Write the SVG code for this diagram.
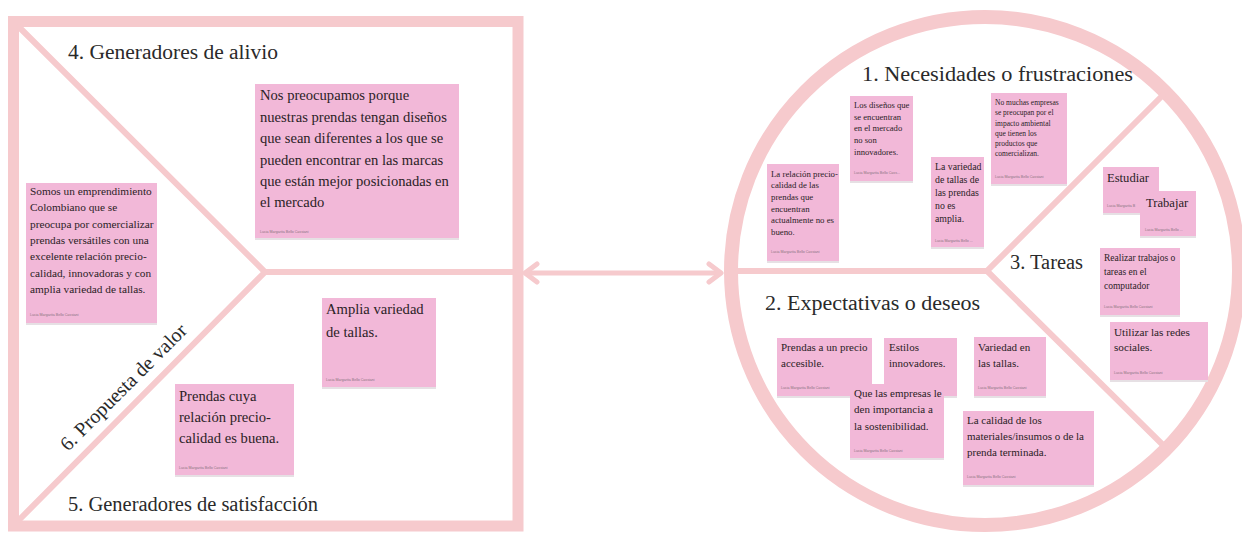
<svg xmlns="http://www.w3.org/2000/svg" width="1242" height="533" viewBox="0 0 1242 533">
<defs>
<style>
.frame{fill:none;stroke:#F6CACD;stroke-width:11}
.div{fill:none;stroke:#F6CACD;stroke-width:6;stroke-linecap:round}
.ring{fill:none;stroke:#F6CACD;stroke-width:14}
.note{fill:#F2B8D8}
.sh{fill:#E6E0E4}
.t{font-family:"Liberation Serif","Times New Roman",serif;fill:#2B2226}
.ttl{font-family:"Liberation Serif","Times New Roman",serif;fill:#2A2A2A;font-size:20px}
.au{font-family:"Liberation Sans",Arial,sans-serif;fill:#8A7480;font-size:3.6px}
</style>
<marker id="chev" viewBox="0 0 20 24" markerWidth="20" markerHeight="24" refX="16" refY="12" orient="auto-start-reverse" markerUnits="userSpaceOnUse">
<path d="M 4 3 L 16 12 L 4 21" fill="none" stroke="#F6CACD" stroke-width="5" stroke-linecap="round" stroke-linejoin="round"/>
</marker>
</defs>
<rect width="1242" height="533" fill="#FFFFFF"/>

<g id="value-map-frame">
<rect class="frame" x="13.5" y="21.5" width="504.5" height="504.5"/>
<polyline class="div" points="19,27 265,272 19,520"/>
<line class="div" x1="265" y1="272" x2="513" y2="272"/>
</g>

<g id="customer-profile-frame">
<circle class="ring" cx="985" cy="271" r="254"/>
<line class="div" x1="738" y1="271" x2="987" y2="271"/>
<polyline class="div" points="1163,95 987,271 1165,447"/>
</g>

<g id="connectors">
<line x1="525" y1="273" x2="721" y2="273" stroke="#F6CACD" stroke-width="5" marker-start="url(#chev)" marker-end="url(#chev)"/>
</g>

<g id="title-4"><text class="ttl" x="68" y="59" textLength="210" lengthAdjust="spacingAndGlyphs">4. Generadores de alivio</text></g>
<g id="title-5"><text class="ttl" x="68" y="511" textLength="250" lengthAdjust="spacingAndGlyphs">5. Generadores de satisfacción</text></g>
<g id="title-6"><text class="ttl" transform="translate(68,452) rotate(-45)" x="0" y="0" textLength="170" lengthAdjust="spacingAndGlyphs">6. Propuesta de valor</text></g>
<g id="title-1"><text class="ttl" x="862" y="81" textLength="271" lengthAdjust="spacingAndGlyphs">1. Necesidades o frustraciones</text></g>
<g id="title-2"><text class="ttl" x="765" y="310" textLength="215" lengthAdjust="spacingAndGlyphs">2. Expectativas o deseos</text></g>
<g id="title-3"><text class="ttl" x="1010" y="269" textLength="73" lengthAdjust="spacingAndGlyphs">3. Tareas</text></g>

<g id="note-alivio">
<rect class="sh" x="255" y="86" width="204" height="154"/>
<rect class="note" x="255" y="84" width="204" height="154"/>
<text class="t" font-size="14.6"><tspan x="260" y="100">Nos preocupamos porque</tspan><tspan x="260" y="122">nuestras prendas tengan diseños</tspan><tspan x="260" y="143">que sean diferentes a los que se</tspan><tspan x="260" y="165">pueden encontrar en las marcas</tspan><tspan x="260" y="186">que están mejor posicionadas en</tspan><tspan x="260" y="207">el mercado</tspan></text>
<text class="au" x="260" y="233">Lucia Margarita Bello Cassiani</text>
</g>

<g id="note-propuesta">
<rect class="sh" x="26" y="185" width="131" height="140"/>
<rect class="note" x="26" y="183" width="131" height="140"/>
<text class="t" font-size="11.3"><tspan x="30" y="195">Somos un emprendimiento</tspan><tspan x="30" y="211">Colombiano que se</tspan><tspan x="30" y="228">preocupa por comercializar</tspan><tspan x="30" y="244">prendas versátiles con una</tspan><tspan x="30" y="260">excelente relación precio-</tspan><tspan x="30" y="277">calidad, innovadoras y con</tspan><tspan x="30" y="293">amplia variedad de tallas.</tspan></text>
<text class="au" x="30" y="316">Lucia Margarita Bello Cassiani</text>
</g>

<g id="note-amplia">
<rect class="sh" x="322" y="300" width="114" height="89"/>
<rect class="note" x="322" y="298" width="114" height="89"/>
<text class="t" font-size="14.6"><tspan x="326" y="314">Amplia variedad</tspan><tspan x="326" y="337">de tallas.</tspan></text>
<text class="au" x="326" y="381">Lucia Margarita Bello Cassiani</text>
</g>

<g id="note-prendas-cuya">
<rect class="sh" x="175" y="386" width="119" height="91"/>
<rect class="note" x="175" y="384" width="119" height="91"/>
<text class="t" font-size="14.6"><tspan x="179" y="401">Prendas cuya</tspan><tspan x="179" y="422">relación precio-</tspan><tspan x="179" y="443">calidad es buena.</tspan></text>
<text class="au" x="179" y="469">Lucia Margarita Bello Cassiani</text>
</g>

<g id="note-relacion">
<rect class="sh" x="767" y="166" width="72" height="97"/>
<rect class="note" x="767" y="164" width="72" height="97"/>
<text class="t" font-size="8.8"><tspan x="771" y="176.5">La relación precio-</tspan><tspan x="771" y="188">calidad de las</tspan><tspan x="771" y="200">prendas que</tspan><tspan x="771" y="211.5">encuentran</tspan><tspan x="771" y="223">actualmente no es</tspan><tspan x="771" y="235">bueno.</tspan></text>
<text class="au" x="771" y="253">Lucia Margarita Bello Cassiani</text>
</g>

<g id="note-disenos">
<rect class="sh" x="850" y="98" width="63" height="85"/>
<rect class="note" x="850" y="96" width="63" height="85"/>
<text class="t" font-size="8.6"><tspan x="854" y="108">Los diseños que</tspan><tspan x="854" y="120">se encuentran</tspan><tspan x="854" y="131">en el mercado</tspan><tspan x="854" y="143">no son</tspan><tspan x="854" y="155">innovadores.</tspan></text>
<text class="au" x="854" y="174">Lucia Margarita Bello Cass...</text>
</g>

<g id="note-variedad-tallas">
<rect class="sh" x="931" y="159" width="53" height="90"/>
<rect class="note" x="931" y="157" width="53" height="90"/>
<text class="t" font-size="9.8"><tspan x="935" y="170">La variedad</tspan><tspan x="935" y="183">de tallas de</tspan><tspan x="935" y="196">las prendas</tspan><tspan x="935" y="209">no es</tspan><tspan x="935" y="222">amplia.</tspan></text>
<text class="au" x="935" y="242">Lucia Margarita Bello ...</text>
</g>

<g id="note-ambiental">
<rect class="sh" x="991" y="95" width="76" height="91"/>
<rect class="note" x="991" y="93" width="76" height="91"/>
<text class="t" font-size="7.5"><tspan x="995" y="105">No muchas empresas</tspan><tspan x="995" y="115">se preocupan por el</tspan><tspan x="995" y="126">impacto ambiental</tspan><tspan x="995" y="136">que tienen los</tspan><tspan x="995" y="146">productos que</tspan><tspan x="995" y="156">comercializan.</tspan></text>
<text class="au" x="995" y="178">Lucia Margarita Bello Cassiani</text>
</g>

<g id="note-estudiar">
<rect class="sh" x="1103" y="169" width="56" height="46"/>
<rect class="note" x="1103" y="167" width="56" height="46"/>
<text class="t" font-size="12.6"><tspan x="1107" y="182">Estudiar</tspan></text>
<text class="au" x="1107" y="207">Lucia Margarita B</text>
</g>

<g id="note-trabajar">
<rect class="sh" x="1140" y="193" width="56" height="45"/>
<rect class="note" x="1140" y="191" width="56" height="45"/>
<text class="t" font-size="12.6"><tspan x="1146" y="207">Trabajar</tspan></text>
<text class="au" x="1145" y="231">Lucia Margarita Bello ...</text>
</g>

<g id="note-computador">
<rect class="sh" x="1100" y="250" width="80" height="67"/>
<rect class="note" x="1100" y="248" width="80" height="67"/>
<text class="t" font-size="9.5"><tspan x="1104" y="261">Realizar trabajos o</tspan><tspan x="1104" y="275">tareas en el</tspan><tspan x="1104" y="289">computador</tspan></text>
<text class="au" x="1104" y="308">Lucia Margarita Bello Cassiani</text>
</g>

<g id="note-redes">
<rect class="sh" x="1110" y="324" width="98" height="58"/>
<rect class="note" x="1110" y="322" width="98" height="58"/>
<text class="t" font-size="11.2"><tspan x="1114" y="336">Utilizar las redes</tspan><tspan x="1114" y="351">sociales.</tspan></text>
<text class="au" x="1114" y="374">Lucia Margarita Bello Cassiani</text>
</g>

<g id="note-precio">
<rect class="sh" x="777" y="340" width="95" height="58"/>
<rect class="note" x="777" y="338" width="95" height="58"/>
<text class="t" font-size="11"><tspan x="781" y="351">Prendas a un precio</tspan><tspan x="781" y="367">accesible.</tspan></text>
<text class="au" x="781" y="389">Lucia Margarita Bello Cassiani</text>
</g>

<g id="note-estilos">
<rect class="sh" x="884" y="340" width="73" height="58"/>
<rect class="note" x="884" y="338" width="73" height="58"/>
<text class="t" font-size="11"><tspan x="889" y="351">Estilos</tspan><tspan x="889" y="367">innovadores.</tspan></text>
<text class="au" x="928" y="389">i</text>
</g>

<g id="note-variedad-en">
<rect class="sh" x="974" y="339" width="72" height="59"/>
<rect class="note" x="974" y="337" width="72" height="59"/>
<text class="t" font-size="11"><tspan x="978" y="351">Variedad en</tspan><tspan x="978" y="367">las tallas.</tspan></text>
<text class="au" x="978" y="389">Lucia Margarita Bello Cassiani</text>
</g>

<g id="note-sostenibilidad">
<rect class="sh" x="850" y="386" width="94" height="74"/>
<rect class="note" x="850" y="384" width="94" height="74"/>
<text class="t" font-size="11"><tspan x="854" y="397">Que las empresas le</tspan><tspan x="854" y="413">den importancia a</tspan><tspan x="854" y="430">la sostenibilidad.</tspan></text>
<text class="au" x="854" y="452">Lucia Margarita Bello Cassiani</text>
</g>

<g id="note-calidad">
<rect class="sh" x="963" y="413" width="131" height="74"/>
<rect class="note" x="963" y="411" width="131" height="74"/>
<text class="t" font-size="11"><tspan x="967" y="424">La calidad de los</tspan><tspan x="967" y="440">materiales/insumos o de la</tspan><tspan x="967" y="456">prenda terminada.</tspan></text>
<text class="au" x="967" y="478">Lucia Margarita Bello Cassiani</text>
</g>
</svg>
